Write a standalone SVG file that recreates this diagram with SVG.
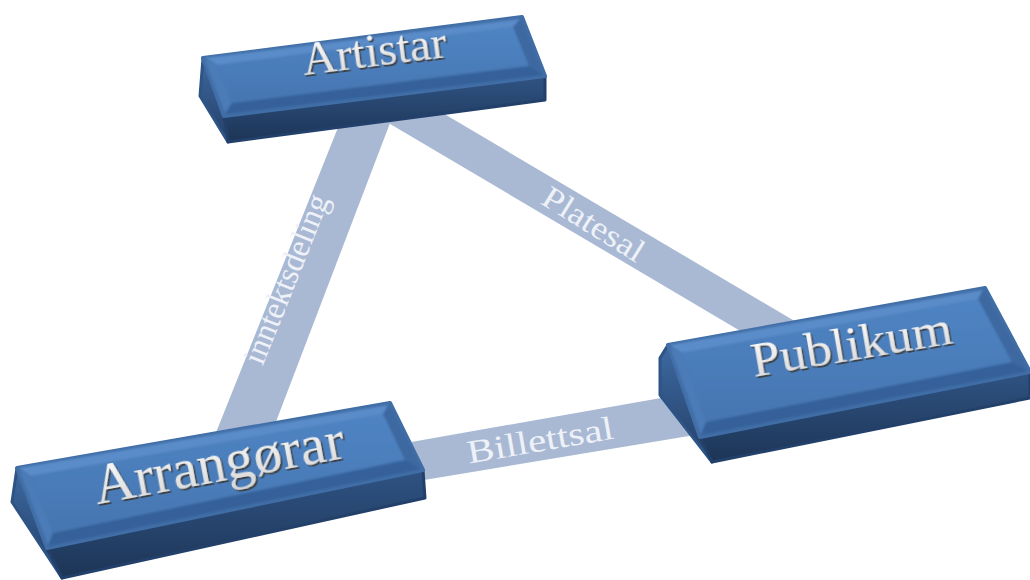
<svg xmlns="http://www.w3.org/2000/svg" width="1030" height="580" viewBox="0 0 1030 580">
  <defs>
    <linearGradient id="gInner" x1="0" y1="0" x2="0" y2="1">
      <stop offset="0" stop-color="#4f84c3"/>
      <stop offset="1" stop-color="#4676b1"/>
    </linearGradient>
    <linearGradient id="gFront" x1="0" y1="0" x2="0" y2="1">
      <stop offset="0" stop-color="#2f5383"/>
      <stop offset="1" stop-color="#1d3556"/>
    </linearGradient>
    <linearGradient id="gSide" x1="0" y1="0" x2="0" y2="1">
      <stop offset="0" stop-color="#3d69a1"/>
      <stop offset="1" stop-color="#243f66"/>
    </linearGradient>
    <linearGradient id="gText" x1="0" y1="0" x2="0" y2="1">
      <stop offset="0" stop-color="#ffffff"/>
      <stop offset="1" stop-color="#d6d6d6"/>
    </linearGradient>
    <filter id="emboss" x="-10%" y="-30%" width="120%" height="160%">
      <feDropShadow dx="1.5" dy="2" stdDeviation="0.7" flood-color="#3a3a3a" flood-opacity="0.9"/>
    </filter>
    <filter id="soft" x="-5%" y="-10%" width="110%" height="120%">
      <feGaussianBlur stdDeviation="1.2"/>
    </filter>
  </defs>
  <style>
    .band { fill: #a9b9d4; }
    .blabel { fill: #eef1f7; font-family: "Liberation Serif", "Times New Roman", serif; }
    .outer { fill: #416ea6; stroke: #416ea6; stroke-width: 4; stroke-linejoin: round; }
    .bevT { fill: #5a8cc9; }
    .bevL { fill: #4b7cb8; }
    .bevB { fill: #36609a; }
    .bevR { fill: #3c68a0; }
    .inner { fill: url(#gInner); }
    .bevel { filter: url(#soft); }
    .front { fill: url(#gFront); stroke: #22406a; stroke-width: 3; stroke-linejoin: round; }
    .side { fill: url(#gSide); stroke: #2e5485; stroke-width: 3; stroke-linejoin: round; }
    .nlabel { fill: url(#gText); font-family: "Liberation Serif", "Times New Roman", serif; filter: url(#emboss); }
  </style>

  <g id="connectors">
    <g id="edge-inntektsdeling">
      <polygon class="band" points="345,110 395,110 269,440 213,440"/>
      <text class="blabel" x="296" y="283" font-size="33" text-anchor="middle" textLength="180" lengthAdjust="spacingAndGlyphs" transform="rotate(-68.2 296 283)">inntektsdeling</text>
    </g>
    <g id="edge-platesal">
      <polygon class="band" points="380,76 820,336 820,378 380,118"/>
      <text class="blabel" x="588" y="233" font-size="32" text-anchor="middle" textLength="114" lengthAdjust="spacingAndGlyphs" transform="rotate(31.8 588 233)">Platesal</text>
    </g>
    <g id="edge-billettsal">
      <polygon class="band" points="400,444 695,392 695,435 400,484"/>
      <text class="blabel" x="542" y="451" font-size="33" text-anchor="middle" textLength="148" lengthAdjust="spacingAndGlyphs" transform="rotate(-9.8 542 451)">Billettsal</text>
    </g>
  </g>

  <g id="node-artistar">
    <polygon class="side" points="203,58 224,116 228,142 200,96"/>
    <polygon class="front" points="224,116 545,76 545,100 228,142"/>
    <polygon class="outer" points="203,58 522,17 545,76 224,116"/>
    <g class="bevel">
      <polygon class="bevT" points="205,58 520,19 513,27 218,65"/>
      <polygon class="bevL" points="205,60 218,65 232,103 225,113"/>
      <polygon class="bevB" points="232,103 529,66 543,75 225,114"/>
      <polygon class="bevR" points="521,19 543,74 529,66 513,27"/>
      <polygon class="inner" points="218,65 513,27 529,66 232,103"/>
    </g>
    <text class="nlabel" x="376" y="66" font-size="46" text-anchor="middle" textLength="145" lengthAdjust="spacingAndGlyphs" transform="rotate(-7.2 376 66)">Artistar</text>
  </g>

  <g id="node-arrangorar">
    <polygon class="side" points="17,468 47,548 62,578 12,502"/>
    <polygon class="front" points="47,548 423,470 425,498 62,578"/>
    <polygon class="outer" points="17,468 390,403 423,470 47,548"/>
    <g class="bevel">
      <polygon class="bevT" points="19,468 388,405 383,414 31,476"/>
      <polygon class="bevL" points="19,470 31,476 53,533 48,545"/>
      <polygon class="bevB" points="53,533 405,460 421,469 48,546"/>
      <polygon class="bevR" points="389,405 421,468 405,460 383,414"/>
      <polygon class="inner" points="31,476 383,414 405,460 53,533"/>
    </g>
    <text class="nlabel" x="222" y="481" font-size="57" text-anchor="middle" textLength="254" lengthAdjust="spacingAndGlyphs" transform="rotate(-10.6 222 481)">Arrangørar</text>
  </g>

  <g id="node-publikum">
    <polygon class="side" points="668,345 700,437 712,462 660,395 660,358"/>
    <polygon class="front" points="700,437 1030,372 1030,398 712,462"/>
    <polygon class="outer" points="668,345 985,288 1030,372 700,437"/>
    <g class="bevel">
      <polygon class="bevT" points="670,345 983,290 978,299 682,353"/>
      <polygon class="bevL" points="670,347 682,353 706,422 701,434"/>
      <polygon class="bevB" points="706,422 1012,362 1028,371 701,435"/>
      <polygon class="bevR" points="984,290 1028,370 1012,362 978,299"/>
      <polygon class="inner" points="682,353 978,299 1012,362 706,422"/>
    </g>
    <text class="nlabel" x="854" y="360" font-size="48" text-anchor="middle" textLength="203" lengthAdjust="spacingAndGlyphs" transform="rotate(-9.6 854 360)">Publikum</text>
  </g>
</svg>
